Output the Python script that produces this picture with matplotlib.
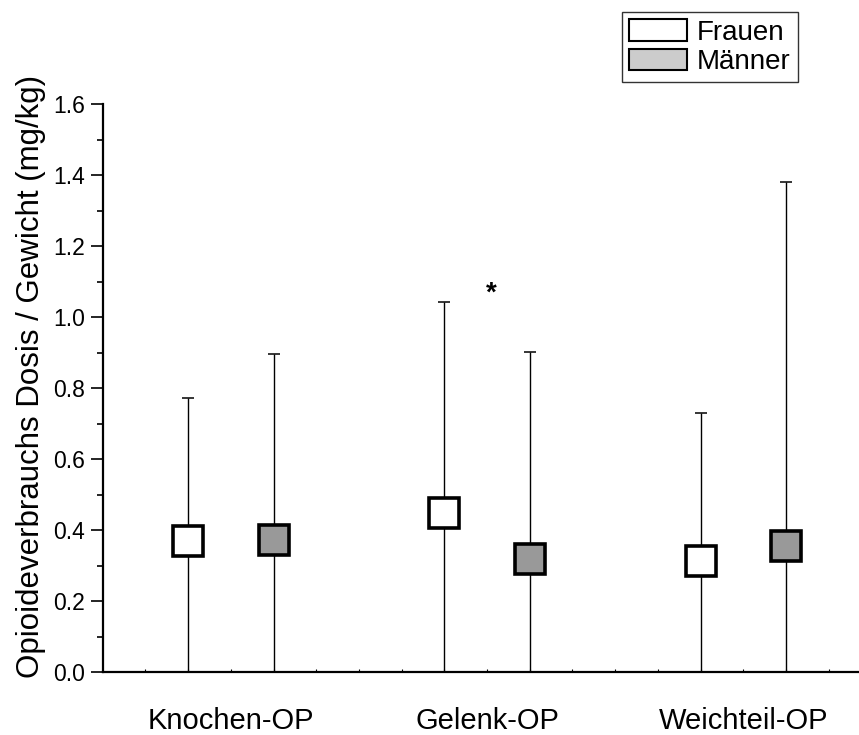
import matplotlib
matplotlib.use('Agg')
import matplotlib.pyplot as plt
from matplotlib.patches import Patch

plt.rcParams['font.family'] = ['Liberation Sans', 'DejaVu Sans']

# Input data
categories = ['Knochen-OP', 'Gelenk-OP', 'Weichteil-OP']
cat_pos = [3, 9, 15]
frauen_pos = [2, 8, 14]
maenner_pos = [4, 10, 16]

frauen_mean = [0.369, 0.448, 0.313]
frauen_upper = [0.773, 1.042, 0.730]
maenner_mean = [0.372, 0.318, 0.356]
maenner_upper = [0.895, 0.902, 1.381]

fig = plt.figure(figsize=(8.59, 7.35), dpi=100)
ax = fig.add_axes([0.1196, 0.0857, 0.8804, 0.7728])


def draw_group(xs, means, uppers, fill):
    lower_err = means
    upper_err = [u - m for u, m in zip(uppers, means)]
    ax.errorbar(xs, means, yerr=[lower_err, upper_err], fmt='none', ecolor='black',
                elinewidth=1.0, capsize=4.5, capthick=1.1, zorder=2)
    ax.plot(xs, means, linestyle='none', marker='s', markersize=21,
            markerfacecolor=fill, markeredgecolor='black', markeredgewidth=2.6, zorder=3)


draw_group(frauen_pos, frauen_mean, frauen_upper, 'white')
draw_group(maenner_pos, maenner_mean, maenner_upper, '#999999')

# significance marker
ax.text(9.1, 1.065, '*', fontsize=20, fontweight='bold', ha='center', va='center')

ax.set_xlim(0, 17.71)
ax.set_ylim(0, 1.6)

ax.spines['top'].set_visible(False)
ax.spines['right'].set_visible(False)
ax.spines['left'].set_linewidth(1.6)
ax.spines['bottom'].set_linewidth(1.6)

ax.set_yticks([0.0, 0.2, 0.4, 0.6, 0.8, 1.0, 1.2, 1.4, 1.6])
ax.set_yticklabels(['0.0', '0.2', '0.4', '0.6', '0.8', '1.0', '1.2', '1.4', '1.6'])
ax.set_yticks([0.1, 0.3, 0.5, 0.7, 0.9, 1.1, 1.3, 1.5], minor=True)
ax.tick_params(axis='y', which='major', direction='out', length=9, width=1.2, labelsize=16.5, pad=4)
ax.tick_params(axis='y', which='minor', direction='out', length=4.5, width=1.2)

ax.xaxis.remove_overlapping_locs = False
ax.set_xticks(range(1, 18))
ax.set_xticklabels([])
ax.tick_params(axis='x', which='major', direction='in', length=2.5, width=0.8)
ax.set_xticks(cat_pos, minor=True)
ax.set_xticklabels(categories, minor=True)
ax.tick_params(axis='x', which='minor', length=0, labelsize=21, pad=25)

ax.set_ylabel('Opioideverbrauchs Dosis / Gewicht (mg/kg)', fontsize=22.5)
ax.yaxis.set_label_coords(-0.075, 0.52)

handles = [Patch(facecolor='white', edgecolor='black', linewidth=1.5, label='Frauen'),
           Patch(facecolor='#cccccc', edgecolor='black', linewidth=1.5, label='Männer')]
leg = fig.legend(handles=handles, loc='upper left', bbox_to_anchor=(0.724, 0.983),
                 fontsize=20, frameon=True, fancybox=False, edgecolor='black',
                 handlelength=2.1, handleheight=0.8, handletextpad=0.35,
                 labelspacing=0.12, borderpad=0.25, borderaxespad=0)
leg.get_frame().set_linewidth(1.0)

fig.savefig('out.png', dpi=100)
